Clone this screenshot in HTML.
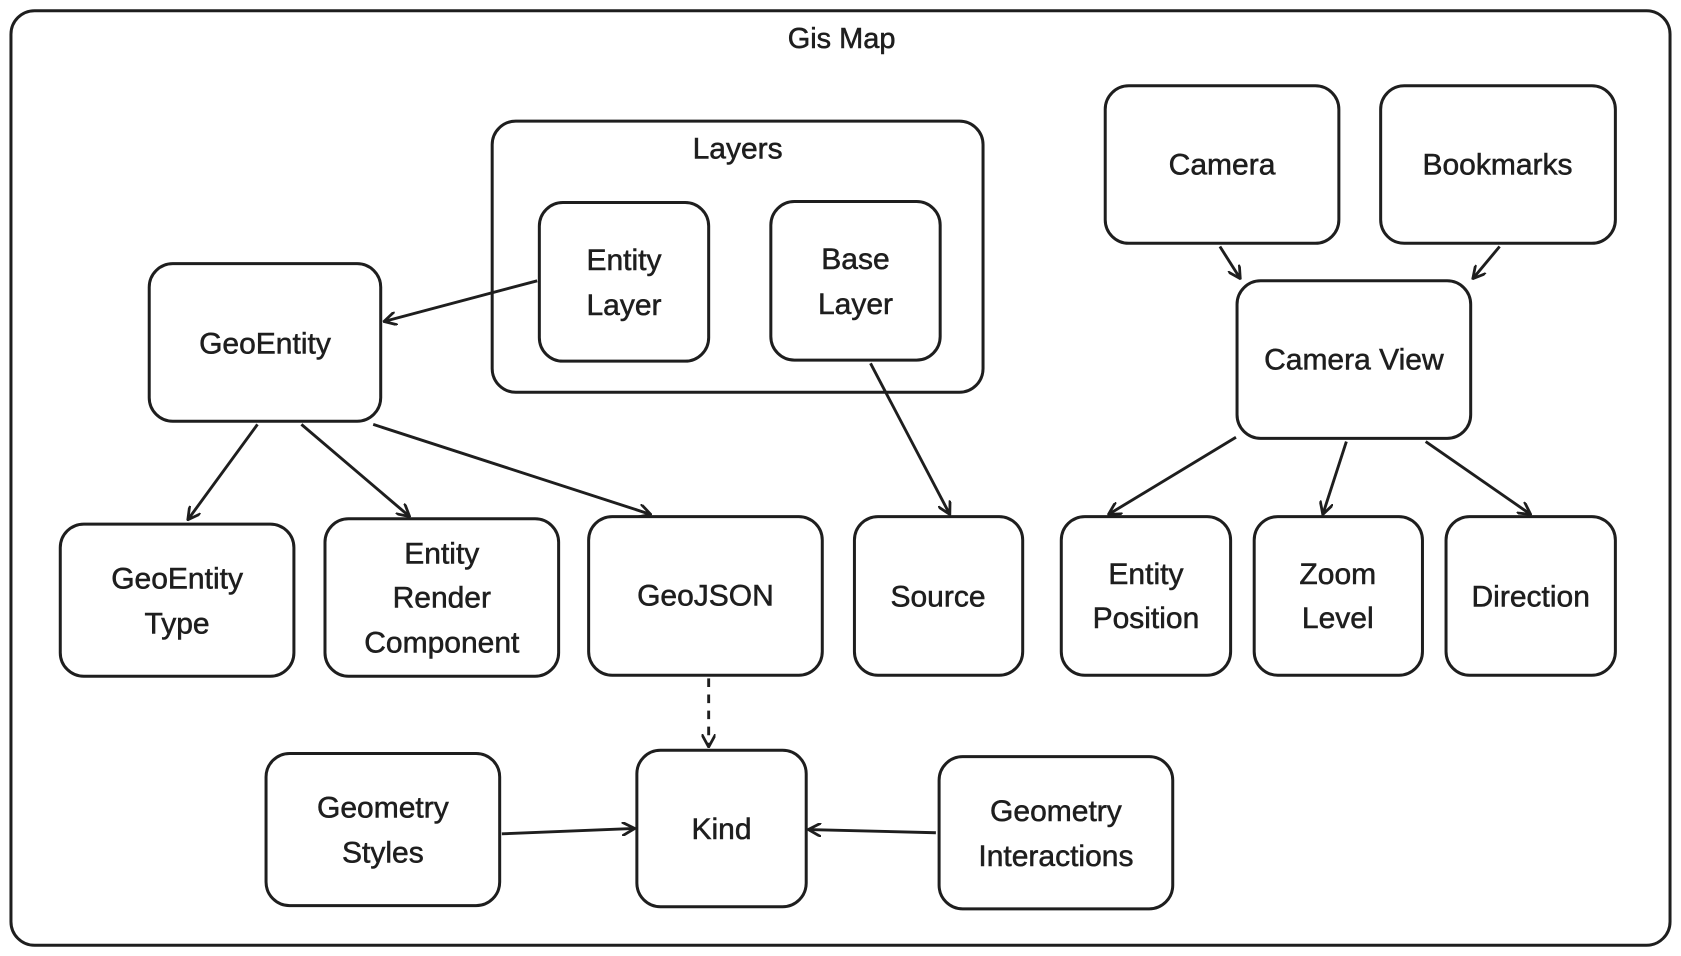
<!DOCTYPE html>
<html><head><meta charset="utf-8"><style>html,body{margin:0;padding:0;background:#fff}svg{display:block}</style></head><body>
<svg width="1681" height="956" viewBox="0 0 1568 892" xmlns="http://www.w3.org/2000/svg">
<defs><marker id="a" viewBox="0 0 12 12" refX="11" refY="6" markerWidth="13" markerHeight="13" markerUnits="userSpaceOnUse" orient="auto"><path d="M0,0 L11,6 L0,12" fill="none" stroke="#1e1e1e" stroke-width="2.4"/></marker></defs>
<g fill="none" stroke="#1e1e1e" stroke-width="2.8">
<rect x="10" y="10" width="1548" height="872" rx="22"/>
<rect x="459" y="113" width="458" height="253" rx="22"/>
<rect x="503" y="189" width="158" height="148" rx="22"/>
<rect x="719" y="188" width="158" height="148" rx="22"/>
<rect x="139" y="246" width="216" height="147" rx="22"/>
<rect x="1031" y="80" width="218" height="147" rx="22"/>
<rect x="1288" y="80" width="219" height="147" rx="22"/>
<rect x="1154" y="262" width="218" height="147" rx="22"/>
<rect x="56" y="489" width="218" height="142" rx="22"/>
<rect x="303" y="484" width="218" height="147" rx="22"/>
<rect x="549" y="482" width="218" height="148" rx="22"/>
<rect x="797" y="482" width="157" height="148" rx="22"/>
<rect x="990" y="482" width="158" height="148" rx="22"/>
<rect x="1170" y="482" width="157" height="148" rx="22"/>
<rect x="1349" y="482" width="158" height="148" rx="22"/>
<rect x="248" y="703" width="218" height="142" rx="22"/>
<rect x="594" y="700" width="158" height="146" rx="22"/>
<rect x="876" y="706" width="218" height="142" rx="22"/>
</g>
<g fill="none" stroke="#1e1e1e" stroke-width="2.7" marker-end="url(#a)">
<path d="M501,262 L358,300"/>
<path d="M240,396 L175,485"/>
<path d="M281,396 L382,482"/>
<path d="M348,396 L607,480"/>
<path d="M812,339 L886,480"/>
<path d="M1138,230 L1157,260"/>
<path d="M1399,230 L1374,260"/>
<path d="M1153,408 L1034,480"/>
<path d="M1256,412 L1234,480"/>
<path d="M1330,412 L1428,480"/>
<path d="M661,633 L661,697" stroke-dasharray="8 7"/>
<path d="M468,778 L592,773"/>
<path d="M873,777 L754,774"/>
</g>
<g font-family="Liberation Sans, sans-serif" font-size="28" fill="#1e1e1e" stroke="#1e1e1e" stroke-width="0.5" text-anchor="middle">
<text x="785" y="45" font-size="27">Gis Map</text>
<text x="688" y="148">Layers</text>
<text x="582" y="252">Entity</text><text x="582" y="294">Layer</text>
<text x="798" y="251">Base</text><text x="798" y="293">Layer</text>
<text x="247" y="330">GeoEntity</text>
<text x="1140" y="163">Camera</text>
<text x="1397" y="163">Bookmarks</text>
<text x="1263" y="345">Camera View</text>
<text x="165" y="549">GeoEntity</text><text x="165" y="591">Type</text>
<text x="412" y="526">Entity</text><text x="412" y="567">Render</text><text x="412" y="609">Component</text>
<text x="658" y="565">GeoJSON</text>
<text x="875" y="566">Source</text>
<text x="1069" y="545">Entity</text><text x="1069" y="586">Position</text>
<text x="1248" y="545">Zoom</text><text x="1248" y="586">Level</text>
<text x="1428" y="566">Direction</text>
<text x="357" y="763">Geometry</text><text x="357" y="805">Styles</text>
<text x="673" y="783">Kind</text>
<text x="985" y="766">Geometry</text><text x="985" y="808">Interactions</text>
</g>
</svg>
</body></html>
